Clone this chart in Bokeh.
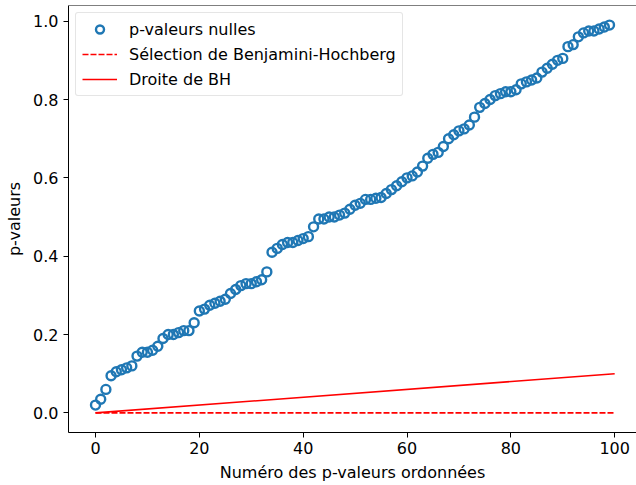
import numpy as np
from bokeh.plotting import figure
from bokeh.embed import file_html
from bokeh.resources import INLINE
from bokeh.models import Legend, LegendItem, FixedTicker, NumeralTickFormatter, Range1d, Span

# ---- data ----
rank = list(range(100))
p_values = [
    0.020, 0.035, 0.060, 0.095, 0.105, 0.110, 0.115, 0.120, 0.145, 0.155,
    0.155, 0.160, 0.170, 0.190, 0.200, 0.200, 0.205, 0.210, 0.210, 0.230,
    0.260, 0.265, 0.275, 0.280, 0.285, 0.290, 0.305, 0.315, 0.325, 0.330,
    0.330, 0.335, 0.340, 0.360, 0.410, 0.420, 0.430, 0.435, 0.435, 0.440,
    0.445, 0.450, 0.475, 0.495, 0.495, 0.500, 0.500, 0.505, 0.510, 0.520,
    0.530, 0.535, 0.545, 0.545, 0.548, 0.550, 0.560, 0.570, 0.580, 0.590,
    0.600, 0.605, 0.615, 0.630, 0.650, 0.660, 0.665, 0.680, 0.700, 0.710,
    0.720, 0.725, 0.735, 0.755, 0.780, 0.790, 0.800, 0.810, 0.815, 0.820,
    0.820, 0.825, 0.840, 0.845, 0.850, 0.855, 0.870, 0.880, 0.890, 0.900,
    0.905, 0.935, 0.940, 0.960, 0.970, 0.975, 0.975, 0.980, 0.985, 0.990,
]
alpha = 0.1
line_x = [0, 100]
bh_line = [0.0, alpha]
selection_line = [0.0, 0.0]
x_ticks = [0, 20, 40, 60, 80, 100]
y_ticks = [0.0, 0.2, 0.4, 0.6, 0.8, 1.0]

FONT = "DejaVu Sans"
FS = "16px"
BLUE = "#1f77b4"
Y_TOP = 1.04

p = figure(width=636, height=485, output_backend="svg", toolbar_location=None,
           x_range=Range1d(-5.2, 104.2), y_range=Range1d(-0.05, Y_TOP),
           min_border_left=68, min_border_right=0, min_border_top=5, min_border_bottom=53)

r_pts = p.scatter(rank, p_values, marker="circle", size=9, line_color=BLUE,
                  line_width=2.4, fill_alpha=0)
r_sel = p.line(line_x, selection_line, line_color="red", line_width=1.6, line_dash="6 2")
r_bh = p.line(line_x, bh_line, line_color="red", line_width=1.6)

p.grid.visible = False
p.outline_line_color = None
p.background_fill_color = "white"
p.add_layout(Span(location=Y_TOP, dimension="width", line_color="black", line_width=1))

p.xaxis.ticker = FixedTicker(ticks=x_ticks)
p.yaxis.ticker = FixedTicker(ticks=y_ticks)
p.yaxis.formatter = NumeralTickFormatter(format="0.0")
for ax in (p.xaxis[0], p.yaxis[0]):
    ax.major_label_text_font = FONT
    ax.major_label_text_font_size = FS
    ax.major_label_text_color = "black"
    ax.axis_label_text_font = FONT
    ax.axis_label_text_font_size = FS
    ax.axis_label_text_font_style = "normal"
    ax.axis_label_text_color = "black"
    ax.minor_tick_line_color = None
    ax.major_tick_out = 5
    ax.major_tick_in = 0
    ax.axis_line_color = "black"
    ax.major_tick_line_color = "black"
p.xaxis.axis_label = "Numéro des p-valeurs ordonnées"
p.yaxis.axis_label = "p-valeurs"
p.xaxis.major_label_standoff = 4
p.yaxis.major_label_standoff = 5
p.xaxis.axis_label_standoff = 6
p.yaxis.axis_label_standoff = 6

legend = Legend(items=[
    LegendItem(label="p-valeurs nulles", renderers=[r_pts]),
    LegendItem(label="Sélection de Benjamini-Hochberg", renderers=[r_sel]),
    LegendItem(label="Droite de BH", renderers=[r_bh]),
], location="top_left")
legend.label_text_font = FONT
legend.label_text_font_size = FS
legend.label_text_color = "black"
legend.glyph_width = 35
legend.glyph_height = 20
legend.spacing = 5
legend.padding = 6
legend.margin = 7
legend.label_standoff = 12
legend.border_line_color = "#cccccc"
legend.border_line_width = 1
legend.background_fill_alpha = 0.8
legend.border_radius = 3
p.add_layout(legend)

open("out.html", "w").write(file_html(p, INLINE))
